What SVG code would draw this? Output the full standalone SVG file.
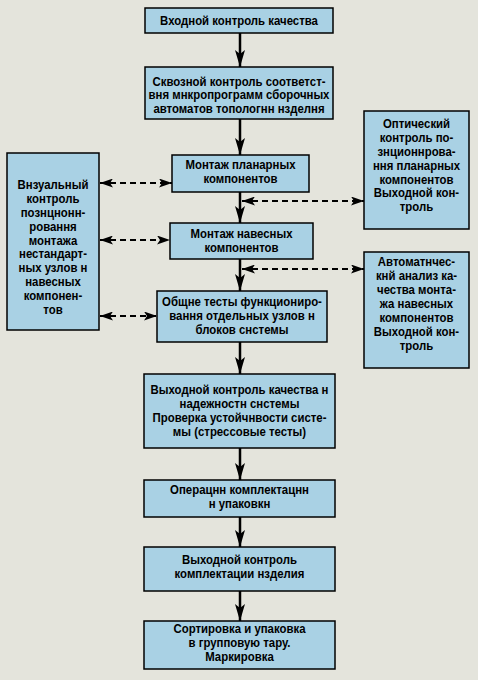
<svg xmlns="http://www.w3.org/2000/svg" width="478" height="680" viewBox="0 0 478 680">
<defs>
<style>
.bg{fill:#e4e4dc}
.box{fill:#a9d1e4;stroke:#000;stroke-width:1.5}
.t{font-family:"Liberation Sans",Arial,sans-serif;font-weight:bold;font-size:13px;fill:#000;text-anchor:middle}
.flow{stroke:#000;stroke-width:2.5;fill:none;marker-end:url(#arrV)}
.dash{stroke:#000;stroke-width:2;fill:none;stroke-dasharray:6 4;marker-start:url(#arrH);marker-end:url(#arrH)}
</style>
<marker id="arrV" viewBox="0 0 17 10" refX="17" refY="5" markerWidth="17" markerHeight="10" markerUnits="userSpaceOnUse" orient="auto">
<path d="M0,0 L17,5 L0,10 L4,5 Z" fill="#000"/>
</marker>
<marker id="arrH" viewBox="0 0 13 9" refX="13" refY="4.5" markerWidth="13" markerHeight="9" markerUnits="userSpaceOnUse" orient="auto-start-reverse">
<path d="M0,0 L13,4.5 L0,9 L3,4.5 Z" fill="#000"/>
</marker>
</defs>
<rect class="bg" x="0" y="0" width="478" height="680"/>

<g id="connectors">
<line class="flow" x1="240" y1="33" x2="240" y2="67"/>
<line class="flow" x1="240" y1="119" x2="240" y2="155"/>
<line class="flow" x1="240" y1="192" x2="240" y2="223"/>
<line class="flow" x1="240" y1="259" x2="240" y2="291"/>
<line class="flow" x1="240" y1="342" x2="240" y2="374"/>
<line class="flow" x1="240" y1="448" x2="240" y2="480"/>
<line class="flow" x1="240" y1="517" x2="240" y2="547"/>
<line class="flow" x1="240" y1="591" x2="240" y2="621"/>
<line class="dash" x1="100" y1="183" x2="172" y2="183"/>
<line class="dash" x1="100" y1="240" x2="170" y2="240"/>
<line class="dash" x1="100" y1="316" x2="157" y2="316"/>
<line class="dash" x1="242" y1="201" x2="364" y2="201"/>
<line class="dash" x1="242" y1="269" x2="364" y2="269"/>
</g>

<g id="n1">
<rect class="box" x="145" y="8" width="188" height="25"/>
<text class="t" transform="translate(239 0) scale(0.877 1)"><tspan x="0" y="25.5">Входной контроль качества</tspan></text>
</g>
<g id="n2">
<rect class="box" x="145" y="67" width="188" height="52"/>
<text class="t" transform="translate(239 0) scale(0.877 1)"><tspan x="0" y="86">Сквозной контроль соответст-</tspan><tspan x="0" y="99.5">вня мнкропрограмм сборочных</tspan><tspan x="0" y="113">автоматов топологнн нзделня</tspan></text>
</g>
<g id="n3">
<rect class="box" x="172" y="155" width="137" height="37"/>
<text class="t" transform="translate(240.5 0) scale(0.877 1)"><tspan x="0" y="169.5">Монтаж планарных</tspan><tspan x="0" y="183">компонентов</tspan></text>
</g>
<g id="n4">
<rect class="box" x="170" y="223" width="143" height="36"/>
<text class="t" transform="translate(241.5 0) scale(0.877 1)"><tspan x="0" y="238">Монтаж навесных</tspan><tspan x="0" y="252">компонентов</tspan></text>
</g>
<g id="n5">
<rect class="box" x="157" y="291" width="170" height="51"/>
<text class="t" transform="translate(242 0) scale(0.877 1)"><tspan x="0" y="306">Общне тесты функциониро-</tspan><tspan x="0" y="320">вання отдельных узлов н</tspan><tspan x="0" y="334.5">блоков снстемы</tspan></text>
</g>
<g id="n6">
<rect class="box" x="144" y="374" width="191" height="74"/>
<text class="t" transform="translate(239.5 0) scale(0.877 1)"><tspan x="0" y="394">Выходной контроль качества н</tspan><tspan x="0" y="408">надежностн снстемы</tspan><tspan x="0" y="422.5">Проверка устойчнвости систе-</tspan><tspan x="0" y="436.5">мы (стрессовые тесты)</tspan></text>
</g>
<g id="n7">
<rect class="box" x="144" y="480" width="191" height="37"/>
<text class="t" transform="translate(239.5 0) scale(0.877 1)"><tspan x="0" y="494.5">Операцнн комплектацнн</tspan><tspan x="0" y="508.5">н упаковкн</tspan></text>
</g>
<g id="n8">
<rect class="box" x="144" y="547" width="191" height="44"/>
<text class="t" transform="translate(239.5 0) scale(0.877 1)"><tspan x="0" y="564.5">Выходной контроль</tspan><tspan x="0" y="578.5">комплектации нзделия</tspan></text>
</g>
<g id="n9">
<rect class="box" x="144" y="621" width="191" height="48"/>
<text class="t" transform="translate(239.5 0) scale(0.877 1)"><tspan x="0" y="633.5">Сортировка и упаковка</tspan><tspan x="0" y="647">в групповую тару.</tspan><tspan x="0" y="661">Маркировка</tspan></text>
</g>
<g id="left">
<rect class="box" x="7" y="153" width="92" height="177"/>
<text class="t" transform="translate(53 0) scale(0.877 1)"><tspan x="0" y="189.5">Внзуальный</tspan><tspan x="0" y="203.3">контроль</tspan><tspan x="0" y="217.1">познцнонн-</tspan><tspan x="0" y="230.9">ровання</tspan><tspan x="0" y="244.7">монтажа</tspan><tspan x="0" y="258.5">нестандарт-</tspan><tspan x="0" y="272.3">ных узлов н</tspan><tspan x="0" y="286.1">навесных</tspan><tspan x="0" y="299.9">компонен-</tspan><tspan x="0" y="313.7">тов</tspan></text>
</g>
<g id="rightTop">
<rect class="box" x="364" y="111" width="105" height="118"/>
<text class="t" transform="translate(416.5 0) scale(0.877 1)"><tspan x="0" y="128">Оптический</tspan><tspan x="0" y="141.9">контроль по-</tspan><tspan x="0" y="155.8">знционнрова-</tspan><tspan x="0" y="169.7">ння планарных</tspan><tspan x="0" y="183.6">компонентов</tspan><tspan x="0" y="197.5">Выходной кон-</tspan><tspan x="0" y="211.4">троль</tspan></text>
</g>
<g id="rightBottom">
<rect class="box" x="364" y="252" width="105" height="116"/>
<text class="t" transform="translate(416.5 0) scale(0.877 1)"><tspan x="0" y="266.5">Автоматнчес-</tspan><tspan x="0" y="280.5">кнй анализ ка-</tspan><tspan x="0" y="294.5">чества монта-</tspan><tspan x="0" y="308.5">жа навесных</tspan><tspan x="0" y="322.5">компонентов</tspan><tspan x="0" y="336.5">Выходной кон-</tspan><tspan x="0" y="350.5">троль</tspan></text>
</g>
</svg>
